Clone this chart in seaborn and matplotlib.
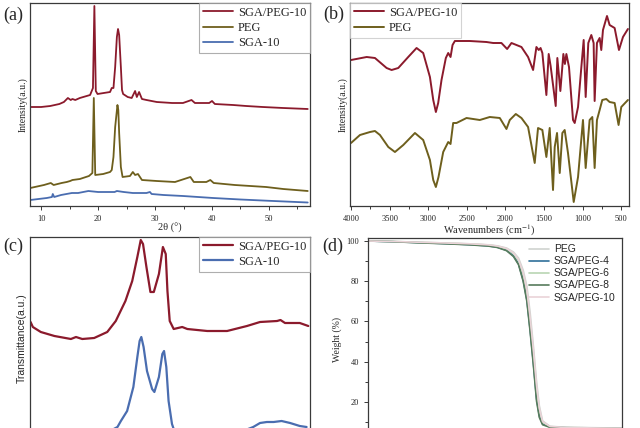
import matplotlib
matplotlib.use("Agg")
import matplotlib.pyplot as plt
import seaborn as sns
from matplotlib.ticker import MultipleLocator, FixedLocator

# (a) XRD patterns, 2theta (deg) vs intensity (a.u.)
xrd_sgapeg_x = [8.1, 10.0, 11.6, 13.2, 14.0, 14.7, 15.2, 15.5, 16.0, 16.8,
                18.0, 18.6, 19.1, 19.35, 19.6, 19.9, 21.0, 22.1, 22.4, 22.7,
                23.0, 23.3, 23.5, 23.7, 24.0, 24.2, 24.4, 25.2, 25.9, 26.5,
                26.8, 27.2, 27.7, 28.5, 30.3, 33.0, 34.9, 36.4, 37.0, 39.5,
                40.0, 40.5, 43.7, 46.0, 48.9, 52.5, 56.8]
xrd_sgapeg_y = [99, 99, 100, 102, 104, 108, 106, 107, 106, 108,
                110, 111, 118, 200, 115, 112, 113, 114, 118, 118,
                139, 169, 177, 171, 139, 116, 112, 109, 108, 115,
                109, 114, 107, 106, 104, 103, 103, 106, 103, 103,
                105, 102, 101, 100, 99, 98, 97]

xrd_peg_x = [8.1, 10.5, 11.7, 12.2, 13.6, 14.5, 15.1, 15.5, 16.8, 18.4,
             19.0, 19.25, 19.5, 20.9, 22.1, 22.4, 22.7, 23.0, 23.4, 23.55,
             23.7, 24.0, 24.3, 25.6, 26.1, 26.5, 27.0, 27.7, 30.3, 33.5,
             36.2, 36.8, 39.0, 39.7, 40.3, 44.0, 49.5, 52.5, 56.8]
xrd_peg_y = [18, 21, 23, 21, 23, 24, 25, 26, 27, 30,
             33, 108, 31, 32, 34, 36, 49, 79, 101, 96,
             73, 39, 29, 30, 34, 31, 32, 26, 25, 24,
             29, 24, 24, 26, 23, 21, 19, 17, 15]

xrd_sga_x = [8.1, 11.0, 11.9, 12.05, 12.3, 13.5, 15.4, 16.5, 18.3, 20.0,
             21.6, 22.9, 23.3, 24.5, 26.1, 28.5, 29.1, 29.4, 31.5, 34.9,
             40.2, 45.0, 49.6, 56.8]
xrd_sga_y = [6, 8, 9, 12, 9, 11, 13, 13, 15, 14,
             14, 14, 15, 14, 13, 13, 14, 12, 11, 10,
             8, 6.5, 5.3, 3.5]

# (b) FTIR spectra, wavenumber (cm-1) vs intensity (a.u.)
ftir_sgapeg_x = [4000, 3797, 3690, 3539, 3474, 3388, 3259, 3151, 3065, 2978,
                 2935, 2901, 2871, 2828, 2772, 2741, 2711, 2685, 2655, 2461,
                 2246, 2159, 2052, 1978, 1922, 1793, 1707, 1642, 1599, 1569,
                 1545, 1522, 1470, 1440, 1415, 1349, 1328, 1289, 1250, 1230,
                 1211, 1177, 1125, 1103, 1060, 1017, 987, 961, 927, 888,
                 858, 845, 815, 780, 759, 737, 685, 651, 586, 530,
                 478, 414]
ftir_sgapeg_y = [146, 149, 148, 138, 136, 138, 149, 158, 153, 129,
                 106, 94, 103, 126, 148, 153, 149, 161, 165, 165,
                 164, 163, 163, 157, 163, 159, 149, 136, 159, 156,
                 158, 153, 111, 152, 140, 100, 148, 115, 152, 142,
                 152, 139, 86, 83, 99, 139, 166, 109, 163, 171,
                 163, 105, 163, 168, 156, 176, 190, 181, 178, 156,
                 169, 177]

ftir_peg_x = [4000, 3884, 3754, 3690, 3625, 3517, 3431, 3323, 3172, 3065,
              2978, 2935, 2901, 2867, 2806, 2741, 2711, 2677, 2634, 2504,
              2332, 2203, 2073, 1987, 1944, 1866, 1793, 1707, 1621, 1578,
              1522, 1470, 1427, 1384, 1362, 1332, 1297, 1263, 1233, 1190,
              1116, 1060, 996, 961, 910, 875, 845, 815, 780, 746,
              694, 651, 586, 535, 500, 414]
ftir_peg_y = [63, 71, 74, 75, 71, 59, 54, 61, 73, 66,
              46, 26, 19, 29, 54, 64, 62, 83, 83, 88,
              86, 89, 88, 77, 86, 92, 88, 79, 43, 78,
              76, 49, 78, 16, 59, 73, 33, 73, 76, 53,
              4, 29, 86, 38, 86, 89, 38, 86, 96, 106,
              107, 104, 103, 81, 99, 106]

# (c) spectra, position vs transmittance (a.u.)
c_sgapeg_x = [8.0, 8.4, 9.8, 12.2, 15.1, 16.0, 17.1, 19.2, 21.5, 23.0,
              24.7, 25.9, 26.8, 27.4, 27.8, 28.4, 29.1, 29.7, 30.6, 31.3,
              31.8, 32.1, 32.5, 33.2, 34.7, 35.6, 39.1, 42.6, 46.1, 48.4,
              51.4, 52.0, 52.8, 55.4, 56.9]
c_sgapeg_y = [118, 113, 108, 104, 101, 103, 101, 102, 108, 119,
              139, 159, 183, 200, 196, 173, 148, 148, 166, 193,
              186, 149, 119, 111, 113, 111, 109, 109, 114, 118,
              119, 120, 117, 117, 114]

c_sga_x = [8.0, 19.0, 22.0, 23.3, 23.9, 25.0, 26.1, 26.8, 27.2, 27.5,
           27.9, 28.5, 29.4, 29.8, 30.6, 31.2, 31.5, 31.9, 32.3, 32.9,
           33.2, 35.0, 40.0, 44.5, 47.2, 48.4, 49.6, 50.8, 52.2, 53.7,
           55.4, 56.6]
c_sga_y = [4, 5, 9, 13, 19, 29, 53, 83, 99, 103,
           93, 69, 51, 48, 63, 86, 89, 73, 39, 16,
           11, 6, 4, 7, 13, 17, 18, 18, 19, 17,
           14, 13]

# (d) TGA, temperature (C) vs weight (%)
tga_temp = [50, 100, 160, 220, 270, 310, 330, 350, 365, 376,
            386, 394, 401, 408, 415, 421, 428, 444, 480, 540, 600]
tga_peg = [100, 99.8, 99.4, 99.0, 98.6, 98.1, 97.6, 96.5, 94.5, 91.5,
           85.5, 77.5, 64.5, 48.0, 30.0, 18.0, 10.5, 7.8, 7.3, 7.1, 6.9]
tga_sgapeg4 = [100, 99.7, 99.2, 98.7, 98.2, 97.6, 96.9, 95.4, 92.6, 88.6,
               80.6, 70.8, 56.0, 39.5, 21.5, 13.0, 9.0, 7.5, 7.1, 6.9, 6.7]
tga_sgapeg6 = [100, 99.8, 99.3, 98.9, 98.5, 98.0, 97.4, 96.1, 93.8, 90.3,
               83.3, 74.5, 60.5, 44.0, 26.0, 15.5, 9.8, 7.6, 7.2, 7.0, 6.8]
tga_sgapeg8 = [100, 99.7, 99.1, 98.6, 98.1, 97.5, 96.8, 95.2, 92.3, 88.2,
               80.0, 70.0, 55.0, 38.5, 20.3, 12.2, 8.6, 7.3, 7.0, 6.8, 6.6]
tga_sgapeg10 = [100, 99.8, 99.4, 99.0, 98.6, 98.1, 97.5, 96.3, 94.1, 90.8,
                84.2, 75.8, 62.0, 46.0, 28.0, 16.8, 10.2, 7.7, 7.2, 7.0, 6.8]
tga_ticks = [20, 40, 60, 80, 100]

RED = "#8b1a2c"
OLIVE = "#6e5f1d"
BLUE = "#4a6db0"
SPINE = "#3a3a3a"

sns.set_theme(style="ticks")
plt.rcParams['font.family'] = ['Liberation Serif', 'DejaVu Serif']
plt.rcParams['mathtext.fontset'] = 'stix'

W, H = 640, 428
fig = plt.figure(figsize=(6.4, 4.28), dpi=100)


def box(left, top, right, bottom):
    # pixel box -> figure fraction
    return [left / W, 1 - bottom / H, (right - left) / W, (bottom - top) / H]


def frame(ax):
    for sp in ax.spines.values():
        sp.set_color(SPINE)
        sp.set_linewidth(0.9)
    ax.tick_params(axis="both", which="both", direction="out", colors=SPINE,
                   labelsize=6, width=0.7, labelcolor="#222222")
    ax.tick_params(which="major", length=3)
    ax.tick_params(which="minor", length=2)


def legend(ax, **kw):
    lg = ax.legend(fancybox=False, fontsize=9, handletextpad=0.4,
                   labelspacing=0.25, borderpad=0.3, **kw)
    lg.get_frame().set_linewidth(0.8)
    return lg


# ---- (a) ----
ax_a = fig.add_axes(box(30, 3, 310, 206))
sns.lineplot(x=xrd_sgapeg_x, y=xrd_sgapeg_y, ax=ax_a, color=RED, lw=1.3,
             label="SGA/PEG-10", sort=False, estimator=None)
sns.lineplot(x=xrd_peg_x, y=xrd_peg_y, ax=ax_a, color=OLIVE, lw=1.3,
             label="PEG", sort=False, estimator=None)
sns.lineplot(x=xrd_sga_x, y=xrd_sga_y, ax=ax_a, color=BLUE, lw=1.3,
             label="SGA-10", sort=False, estimator=None)
ax_a.set_xlim(8.05, 57.2)
ax_a.set_ylim(0, 203)
ax_a.set_yticks([])
ax_a.xaxis.set_major_locator(MultipleLocator(10))
ax_a.xaxis.set_minor_locator(MultipleLocator(5))
frame(ax_a)
ax_a.set_xlabel("2θ (°)", fontsize=7.5, labelpad=0)
ax_a.set_ylabel("Intensity(a.u.)", fontsize=7, labelpad=2)
legend(ax_a, loc="upper right", bbox_to_anchor=(1, 1), borderaxespad=0,
       edgecolor="#9a9a9a", handlelength=2.4)

# ---- (b) ----
ax_b = fig.add_axes(box(350, 3, 629, 206))
sns.lineplot(x=ftir_sgapeg_x, y=ftir_sgapeg_y, ax=ax_b, color=RED, lw=1.4,
             label="SGA/PEG-10", sort=False, estimator=None)
sns.lineplot(x=ftir_peg_x, y=ftir_peg_y, ax=ax_b, color=OLIVE, lw=1.4,
             label="PEG", sort=False, estimator=None)
ax_b.set_xlim(4013, 400)
ax_b.set_ylim(0, 203)
ax_b.set_yticks([])
ax_b.xaxis.set_major_locator(MultipleLocator(500))
ax_b.xaxis.set_minor_locator(MultipleLocator(250))
frame(ax_b)
ax_b.set_xlabel("Wavenumbers (cm$^{-1}$)", fontsize=7.5, labelpad=0)
ax_b.set_ylabel("Intensity(a.u.)", fontsize=7, labelpad=2)
legend(ax_b, loc="upper left", bbox_to_anchor=(0, 1), borderaxespad=0,
       edgecolor="#c8c8c8", handlelength=2.4)

# ---- (c) ----
ax_c = fig.add_axes(box(30, 237, 310, 440))
sns.lineplot(x=c_sgapeg_x, y=c_sgapeg_y, ax=ax_c, color=RED, lw=1.6,
             label="SGA/PEG-10", sort=False, estimator=None)
sns.lineplot(x=c_sga_x, y=c_sga_y, ax=ax_c, color=BLUE, lw=1.6,
             label="SGA-10", sort=False, estimator=None)
ax_c.set_xlim(7.9, 57.2)
ax_c.set_ylim(0, 203)
ax_c.set_yticks([])
ax_c.set_xticks([])
frame(ax_c)
ax_c.set_ylabel("Transmittance(a.u.)", fontsize=7.5, labelpad=2,
                family=["Liberation Sans", "DejaVu Sans"])
legend(ax_c, loc="upper right", bbox_to_anchor=(1, 1), borderaxespad=0,
       edgecolor="#9a9a9a", handlelength=2.4)

# ---- (d) ----
ax_d = fig.add_axes(box(368, 238, 622, 442))
tga_series = [("PEG", tga_peg, "#cfd3cf"),
              ("SGA/PEG-4", tga_sgapeg4, "#2f6f9a"),
              ("SGA/PEG-6", tga_sgapeg6, "#b9d6b3"),
              ("SGA/PEG-8", tga_sgapeg8, "#587c5c"),
              ("SGA/PEG-10", tga_sgapeg10, "#ead3d8")]
for name, vals, col in tga_series:
    sns.lineplot(x=tga_temp, y=vals, ax=ax_d, color=col, lw=1.2,
                 label=name, sort=False, estimator=None)
ax_d.set_xlim(50, 600)
ax_d.set_ylim(0, 101.5)
ax_d.set_xticks([])
ax_d.yaxis.set_major_locator(FixedLocator(tga_ticks))
ax_d.yaxis.set_minor_locator(FixedLocator([10, 30, 50, 70, 90]))
frame(ax_d)
ax_d.set_ylabel("Weight (%)", fontsize=7, labelpad=3)
lg = ax_d.legend(loc="upper right", bbox_to_anchor=(1.0, 1.0), frameon=False,
                 prop={"family": ["Liberation Sans", "DejaVu Sans"], "size": 7.5},
                 handlelength=1.9, handletextpad=0.5, labelspacing=0.2,
                 borderaxespad=0.2)

# panel letters
for lab, px, py in [("(a)", 3, 15), ("(b)", 323, 14), ("(c)", 3, 246), ("(d)", 322, 246)]:
    fig.text(px / W, 1 - py / H, lab, fontsize=13, va="center", ha="left")

fig.savefig("out.png", dpi=100)
